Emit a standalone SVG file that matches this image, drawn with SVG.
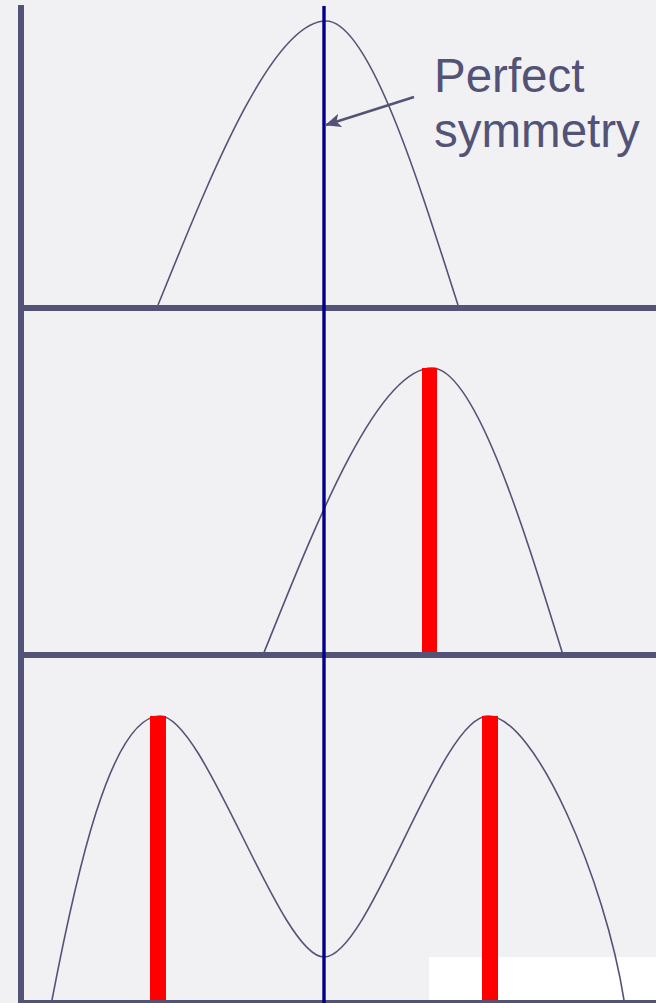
<svg xmlns="http://www.w3.org/2000/svg" width="656" height="1003" viewBox="0 0 656 1003">
<style>
.axis{stroke:#535377;stroke-width:6;fill:none}
.curve{stroke:#53537a;stroke-width:1.6;fill:none}
.sym{stroke:#000088;stroke-width:3.4;fill:none}
.bar{fill:#ff0000}
.lbl{font-family:"Liberation Sans",Arial,sans-serif;font-size:47.5px;fill:#535377}
</style>
<defs>
<marker id="ah" markerWidth="16" markerHeight="14" refX="15" refY="7" orient="auto" markerUnits="userSpaceOnUse" viewBox="0 0 16 14">
<path d="M0,0 L16,7 L0,14 L4,7 Z" fill="#535377"/>
</marker>
</defs>
<rect width="656" height="1003" fill="#f1f1f3"/>
<rect x="429" y="957" width="227" height="46" fill="#ffffff"/>
<g id="curve-top">
<path class="curve" d="M158,305 C205,190 270,21 326,21 C370,21 421,190 458,305"/>
</g>
<g id="curve-middle">
<path class="curve" d="M263,655 C310,539 375,368 432,368 C476,368 527,539 563,655"/>
<rect class="bar" x="422" y="368" width="15" height="287"/>
</g>
<g id="curve-bottom">
<path class="curve" d="M52,1000 C75,880 110,716 160,716 C205,716 280,957 324,957 C370,957 440,716 488,716 C535,716 605,880 624,1000"/>
<rect class="bar" x="150" y="716" width="16" height="287"/>
<rect class="bar" x="482" y="716" width="16" height="287"/>
</g>
<g id="axes">
<line class="axis" x1="21" y1="5" x2="21" y2="1003"/>
<line class="axis" x1="18" y1="308" x2="656" y2="308"/>
<line class="axis" x1="18" y1="655" x2="656" y2="655"/>
<line class="axis" x1="18" y1="1003" x2="656" y2="1003"/>
</g>
<g id="symmetry-axis">
<line class="sym" x1="324" y1="6" x2="324" y2="1003"/>
</g>
<g id="connectors">
<line x1="414" y1="97" x2="326" y2="125" stroke="#535377" stroke-width="2.5" marker-end="url(#ah)"/>
</g>
<g id="label">
<text class="lbl" x="434" y="92">Perfect</text>
<text class="lbl" x="434" y="147">symmetry</text>
</g>
</svg>
